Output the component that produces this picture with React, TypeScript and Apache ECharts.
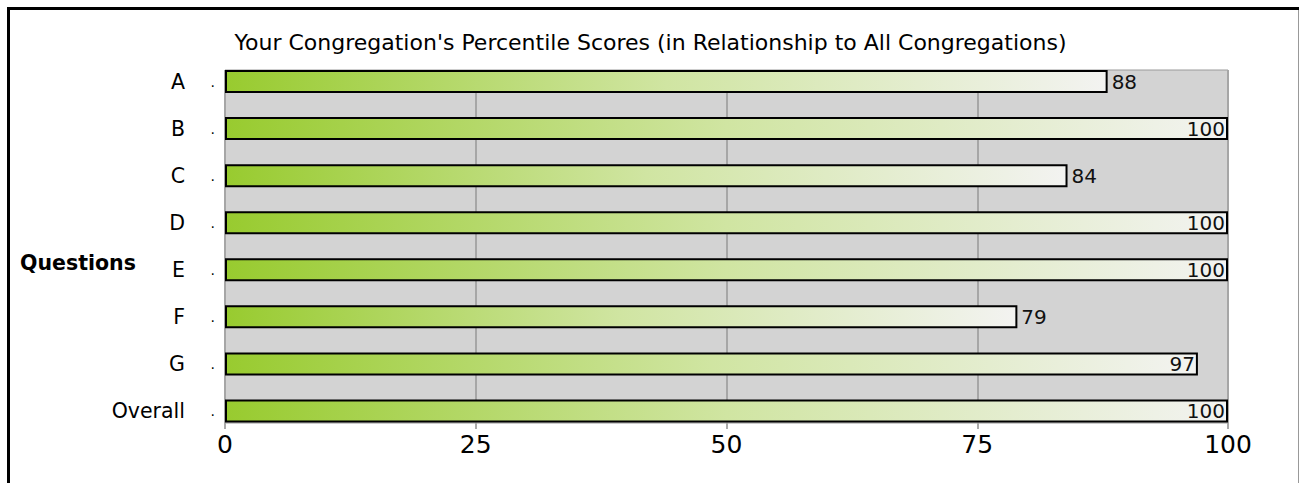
import React, { useEffect, useRef } from "react";
import * as echarts from "echarts";

const categories = ["A", "B", "C", "D", "E", "F", "G", "Overall"];
const scores = [88, 100, 84, 100, 100, 79, 97, 100];
const xTicks = [0, 25, 50, 75, 100];
const titleText = "Your Congregation's Percentile Scores (in Relationship to All Congregations)";
const yAxisTitle = "Questions";

const FONT = "'DejaVu Sans', Verdana, sans-serif";

export default function App() {
  const ref = useRef<HTMLDivElement>(null);
  useEffect(() => {
    if (!ref.current) return;
    const chart = echarts.init(ref.current, null, { renderer: "svg" });
    const gradient = new echarts.graphic.LinearGradient(0, 0, 1, 0, [
      { offset: 0, color: "#98cb2f" },
      { offset: 0.5, color: "#d0e5a2" },
      { offset: 1, color: "#f3f3f1" },
    ]);
    const data = scores.map((v) => ({
      value: v,
      label: v >= 95
        ? { position: "insideRight", distance: 3 }
        : { position: "right", distance: 4 },
    }));
    chart.setOption({
      animation: false,
      textStyle: { fontFamily: FONT },
      title: {
        text: titleText,
        left: "center",
        top: 26,
        textStyle: { fontSize: 22, fontWeight: "normal", color: "#000", fontFamily: FONT },
      },
      graphic: [
        { type: "rect", shape: { x: 7, y: 7, width: 1292, height: 3 }, style: { fill: "#000" } },
        { type: "rect", shape: { x: 7, y: 7, width: 3, height: 480 }, style: { fill: "#000" } },
        { type: "rect", shape: { x: 1298, y: 10, width: 1, height: 480 }, style: { fill: "#999" } },
        {
          type: "text",
          left: 20,
          top: 252,
          style: { text: yAxisTitle, font: `bold 20.5px ${FONT}`, fill: "#000" },
        },
      ],
      grid: [
        {
          left: 225, top: 70, width: 1003, height: 353,
          show: true, backgroundColor: "#d3d3d3", borderColor: "#9a9a9a", borderWidth: 1,
        },
        { left: 225, top: 58, width: 1003, height: 376.5 },
      ],
      xAxis: [
        {
          gridIndex: 0, type: "value", min: 0, max: 100, interval: 25,
          axisLine: { show: false },
          axisTick: { show: true, length: 6, lineStyle: { color: "#aaa", width: 2 } },
          axisLabel: {
            fontSize: 25, color: "#000", margin: 9, fontFamily: FONT,
            formatter: (v: number) => (xTicks.includes(v) ? String(v) : ""),
          },
          splitLine: { show: true, lineStyle: { color: "#a6a6a6", width: 2 } },
        },
        {
          gridIndex: 1, type: "value", min: 0, max: 100, show: false,
          splitLine: { show: false },
        },
      ],
      yAxis: [
        { gridIndex: 0, type: "category", data: categories, show: false },
        {
          gridIndex: 1, type: "category", data: categories, inverse: true,
          axisLine: { show: false }, axisTick: { show: false },
          axisLabel: {
            margin: 10,
            formatter: (v: string) => `{n|${v}}{d|.}`,
            rich: {
              n: { fontSize: 20.5, color: "#000", fontFamily: FONT },
              d: { fontSize: 14, color: "#000", width: 30, align: "right", fontFamily: FONT },
            },
          },
        },
      ],
      series: [
        {
          type: "bar",
          xAxisIndex: 1,
          yAxisIndex: 1,
          data,
          barWidth: 23,
          itemStyle: { color: gradient, borderColor: "#000", borderWidth: 2 },
          label: { show: true, fontSize: 20, color: "#111", fontFamily: FONT },
        },
      ],
    });
    return () => chart.dispose();
  }, []);
  return (
    <div
      ref={ref}
      style={{ position: "absolute", left: 0, top: 0, width: 1301, height: 483 }}
    />
  );
}
